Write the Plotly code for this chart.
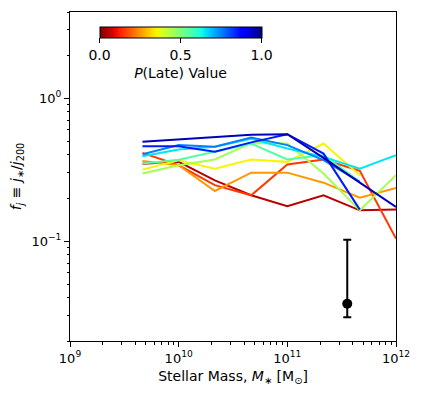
import numpy as np
import plotly.graph_objects as go

# ---- data ----
log_mass = [9.667, 10.0, 10.333, 10.667, 11.0, 11.333, 11.667, 12.0]
p_late_centres = [0.05, 0.15, 0.25, 0.35, 0.45, 0.55, 0.65, 0.75, 0.85, 0.95]
fj_005 = [0.348, 0.358, 0.266, 0.209, 0.175, 0.209, 0.164, 0.166]
fj_015 = [0.414, 0.339, 0.246, 0.209, 0.343, 0.372, 0.310, 0.104]
fj_025 = [0.363, 0.339, 0.224, 0.301, 0.301, 0.256, 0.201, 0.235]
fj_035 = [0.316, 0.368, 0.321, 0.372, 0.358, 0.481, 0.289, None]
fj_045 = [0.297, 0.339, 0.372, 0.485, 0.481, 0.297, 0.164, 0.289]
fj_055 = [0.348, 0.370, 0.421, 0.480, 0.372, 0.400, 0.260, None]
fj_065 = [0.392, 0.437, 0.456, 0.520, 0.444, 0.388, 0.321, 0.399]
fj_075 = [0.405, 0.469, 0.456, 0.530, 0.469, 0.368, 0.259, None]
fj_085 = [0.461, 0.461, 0.421, 0.490, 0.559, 0.409, 0.166, None]
fj_095 = [0.494, 0.513, 0.530, 0.553, 0.559, 0.382, 0.256, 0.173]
series = [fj_005, fj_015, fj_025, fj_035, fj_045, fj_055, fj_065, fj_075, fj_085, fj_095]

err_x = [3.56e11]
err_y = [0.0364]
err_hi = [0.102]
err_lo = [0.0293]

x_tickvals = [1e9, 1e10, 1e11, 1e12]
x_ticktext = ["10<sup>9</sup>", "10<sup>10</sup>", "10<sup>11</sup>", "10<sup>12</sup>"]
y_tickvals = [0.1, 1.0]
y_ticktext = ["10<sup>−1</sup>", "10<sup>0</sup>"]
cb_tickvals = [0.0, 0.5, 1.0]
cb_ticktext = ["0.0", "0.5", "1.0"]

# ---- matplotlib jet colormap ----
def jet(t):
    r = np.interp(t, [0, 0.35, 0.66, 0.89, 1], [0, 0, 1, 1, 0.5])
    g = np.interp(t, [0, 0.125, 0.375, 0.64, 0.91, 1], [0, 0, 1, 1, 0, 0])
    b = np.interp(t, [0, 0.11, 0.34, 0.65, 1], [0.5, 1, 1, 0, 0])
    return "rgb(%d,%d,%d)" % (round(r * 255), round(g * 255), round(b * 255))

def jet_r(t):
    return jet(1 - t)

colorscale = [[s, jet_r(s)] for s in np.linspace(0, 1, 41)]

mass = [10 ** v for v in log_mass]

fig = go.Figure()
for p, vals in zip(p_late_centres, series):
    fig.add_trace(go.Scatter(x=mass, y=vals, mode="lines",
                             line=dict(color=jet_r(p), width=2),
                             showlegend=False, hoverinfo="skip"))

fig.add_trace(go.Scatter(
    x=err_x, y=err_y, mode="markers",
    marker=dict(color="black", size=10),
    error_y=dict(type="data", symmetric=False,
                 array=[h - y for h, y in zip(err_hi, err_y)],
                 arrayminus=[y - l for l, y in zip(err_lo, err_y)],
                 color="black", thickness=2, width=4),
    showlegend=False))

# colorbar carrier
fig.add_trace(go.Scatter(
    x=[None, None], y=[None, None], mode="markers",
    marker=dict(color=[0, 1], cmin=0, cmax=1, colorscale=colorscale, showscale=True,
                colorbar=dict(orientation="h", x=0.339, xanchor="center",
                              y=0.954, yanchor="top", len=0.498, lenmode="fraction",
                              thickness=11, xpad=0, ypad=0,
                              outlinecolor="black", outlinewidth=1,
                              tickvals=cb_tickvals, ticktext=cb_ticktext,
                              ticks="outside", ticklen=5, tickcolor="black",
                              tickfont=dict(size=14, color="black"),
                              title=dict(text="<i>P</i>(Late) Value", side="bottom",
                                         font=dict(size=14, color="black")))),
    showlegend=False))

font = "DejaVu Sans"
# the page body adds an 8px offset, so the figure is drawn 8px smaller
fig.update_layout(
    width=428, height=389,
    margin=dict(l=62, r=40, t=4, b=56),
    paper_bgcolor="white", plot_bgcolor="white",
    font=dict(family=font, size=13, color="black"),
    showlegend=False,
)
fig.update_xaxes(type="log", range=[9, 12], tickvals=x_tickvals, ticktext=x_ticktext,
                 showgrid=False, zeroline=False,
                 showline=True, linecolor="black", linewidth=1, mirror=True,
                 ticks="outside", ticklen=5, tickcolor="black",
                 minor=dict(ticks="outside", ticklen=2.5, tickcolor="black", showgrid=False, dtick="D1"),
                 tickfont=dict(size=13),
                 title=dict(text="Stellar Mass, <i>M</i><sub>∗</sub> [M<sub>⊙</sub>]",
                            font=dict(size=14), standoff=6))
fig.update_yaxes(type="log", range=[np.log10(0.02), np.log10(4)], tickvals=y_tickvals, ticktext=y_ticktext,
                 showgrid=False, zeroline=False,
                 showline=True, linecolor="black", linewidth=1, mirror=True,
                 ticks="outside", ticklen=5, tickcolor="black",
                 minor=dict(ticks="outside", ticklen=2.5, tickcolor="black", showgrid=False, dtick="D1"),
                 tickfont=dict(size=13),
                 title=dict(text="<i>f</i><sub><i>j</i></sub> ≡ <i>j</i><sub>∗</sub>/<i>j</i><sub>200</sub>",
                            font=dict(size=14), standoff=6))

fig.write_html("out.html")
